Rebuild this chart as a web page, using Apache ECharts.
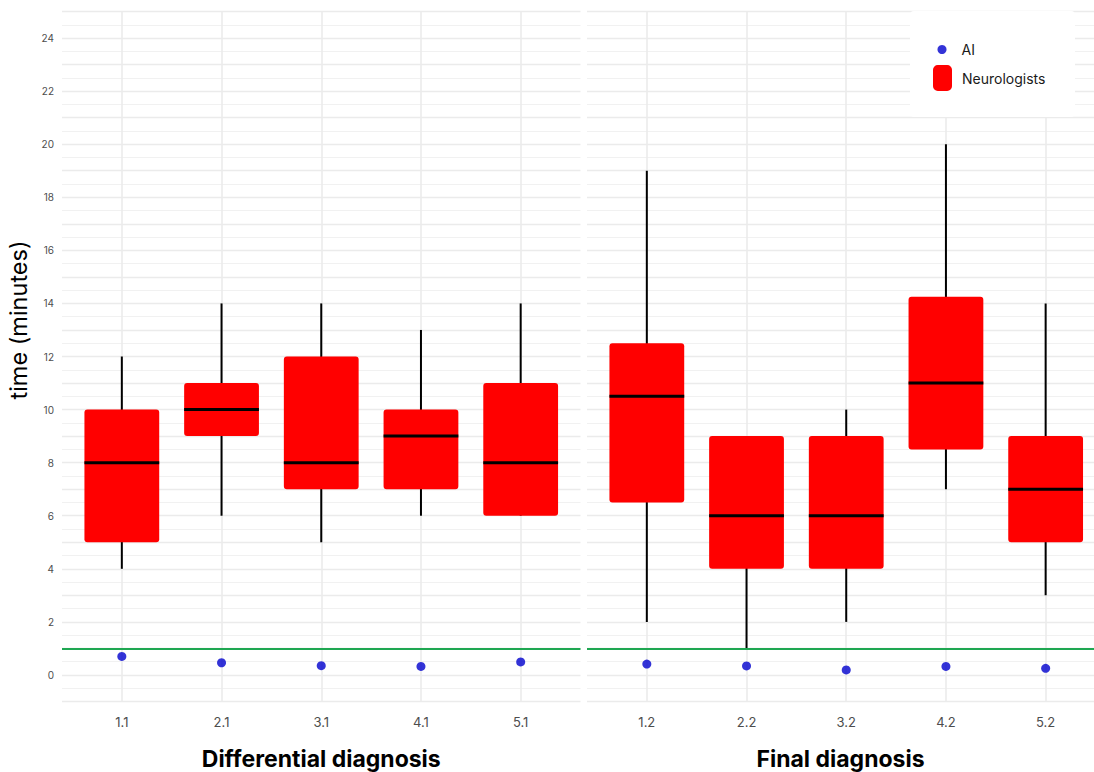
<!DOCTYPE html>
<html><head><meta charset="utf-8">
<script src="https://cdn.jsdelivr.net/npm/echarts@6/dist/echarts.min.js"></script>
<style>html,body{margin:0;padding:0;background:#fff}#c{width:1094px;height:772px}</style>
</head><body><div id="c"></div>
<script>
// Categories
const diffCats = ['1.1', '2.1', '3.1', '4.1', '5.1'];
const finalCats = ['1.2', '2.2', '3.2', '4.2', '5.2'];
// Neurologists: [lower whisker, Q1, median, Q3, upper whisker]
const diffNeuro = [[4, 5, 8, 10, 12], [6, 9, 10, 11, 14], [5, 7, 8, 12, 14], [6, 7, 9, 10, 13], [6, 6, 8, 11, 14]];
const finalNeuro = [[2, 6.5, 10.5, 12.5, 19], [1, 4, 6, 9, 9], [2, 4, 6, 9, 10], [7, 8.5, 11, 14.25, 20], [3, 5, 7, 9, 14]];
// AI times
const diffAI = [0.70, 0.46, 0.35, 0.32, 0.49];
const finalAI = [0.41, 0.34, 0.19, 0.32, 0.25];
// Y tick labels
const yTickLabels = [0, 2, 4, 6, 8, 10, 12, 14, 16, 18, 20, 22, 24];
const threshold = 1;

const FONT = 'Inter';
const chart = echarts.init(document.getElementById('c'), null, {renderer: 'svg'});

function renderBox(params, api) {
  const x = api.value(0);
  const lo = api.coord([x, api.value(1)]);
  const q1 = api.coord([x, api.value(2)]);
  const md = api.coord([x, api.value(3)]);
  const q3 = api.coord([x, api.value(4)]);
  const hi = api.coord([x, api.value(5)]);
  const w = api.size([0.75, 0])[0];
  return {
    type: 'group',
    children: [
      {type: 'line', shape: {x1: lo[0], y1: lo[1], x2: hi[0], y2: hi[1]}, style: {stroke: '#000', lineWidth: 2}},
      {type: 'rect', shape: {x: q3[0] - w / 2, y: q3[1], width: w, height: q1[1] - q3[1], r: 3}, style: {fill: '#ff0000'}},
      {type: 'line', shape: {x1: md[0] - w / 2, y1: md[1], x2: md[0] + w / 2, y2: md[1]}, style: {stroke: '#000', lineWidth: 3}}
    ]
  };
}

function xAxisFor(idx, cats, title, maxV) {
  return {
    type: 'value', gridIndex: idx, min: 0.4, max: maxV,
    axisLine: {show: false}, axisTick: {show: false}, splitLine: {show: false},
    axisLabel: {
      customValues: cats.map((c, i) => i + 1),
      formatter: v => cats[Math.round(v) - 1] || '',
      color: '#4d4d4d', fontSize: 13, fontFamily: FONT, margin: 14
    },
    name: title, nameLocation: 'middle', nameGap: 46,
    nameTextStyle: {color: '#000', fontSize: 23, fontWeight: 'bold', fontFamily: FONT}
  };
}

function yAxisFor(idx, showLabels) {
  return {
    type: 'value', gridIndex: idx, min: -1, max: 25, interval: 1,
    axisLine: {show: false}, axisTick: {show: false},
    axisLabel: {
      show: showLabels, color: '#4d4d4d', fontSize: 10, fontFamily: FONT, margin: 8,
      formatter: v => yTickLabels.indexOf(v) >= 0 ? String(v) : ''
    },
    splitLine: {show: true, lineStyle: {color: '#ebebeb', width: 1.4}},
    minorTick: {show: false, splitNumber: 2},
    minorSplitLine: {show: true, lineStyle: {color: '#ededed', width: 0.8}}
  };
}

function vLines(idx, cats) {
  return {
    type: 'line', xAxisIndex: idx, yAxisIndex: idx, data: [], z: 1, silent: true,
    markLine: {
      silent: true, z: 1, symbol: ['none', 'none'], label: {show: false}, animation: false,
      lineStyle: {color: '#ebebeb', width: 1.6, type: 'solid'},
      data: cats.map((c, i) => ({xAxis: i + 1}))
    }
  };
}

function boxSeries(idx, vals) {
  return {
    type: 'custom', name: 'Neurologists', xAxisIndex: idx, yAxisIndex: idx, z: 3,
    itemStyle: {color: '#ff0000'},
    renderItem: renderBox,
    encode: {x: 0, y: [1, 2, 3, 4, 5]},
    data: vals.map((v, i) => [i + 1].concat(v))
  };
}

function aiSeries(idx, vals) {
  return {
    type: 'scatter', name: 'AI', xAxisIndex: idx, yAxisIndex: idx, z: 4,
    symbol: 'circle', symbolSize: 9, itemStyle: {color: '#0000cd'},
    data: vals.map((v, i) => [i + 1, v]),
    markLine: {
      silent: true, z: 4, symbol: ['none', 'none'], label: {show: false}, animation: false,
      lineStyle: {color: '#1fa752', width: 2, type: 'solid'},
      data: [{yAxis: threshold}]
    }
  };
}

chart.setOption({
  animation: false,
  backgroundColor: '#fff',
  grid: [
    {left: 62, top: 11.5, width: 518.5, bottom: 70.5, outerBoundsMode: 'none', containLabel: false},
    {left: 587, top: 11.5, right: 0, bottom: 70.5, outerBoundsMode: 'none', containLabel: false}
  ],
  xAxis: [xAxisFor(0, diffCats, 'Differential diagnosis', 5.6), xAxisFor(1, finalCats, 'Final diagnosis', 5.485)],
  yAxis: [yAxisFor(0, true), yAxisFor(1, false)],
  legend: [
    {
      data: [{name: 'AI', icon: 'circle'}], left: 937.5, top: 42.5, padding: 0,
      itemWidth: 19, itemHeight: 9, selectedMode: false, z: 10,
      textStyle: {color: '#1a1a1a', fontSize: 14, fontFamily: FONT, padding: [0, 0, 0, 5]}
    },
    {
      data: [{name: 'Neurologists', icon: 'roundRect'}], left: 933, top: 65, padding: 0,
      itemWidth: 19, itemHeight: 26, selectedMode: false, z: 10,
      textStyle: {color: '#1a1a1a', fontSize: 14, fontFamily: FONT, padding: [0, 0, 0, 5]}
    }
  ],
  graphic: [
    {type: 'rect', left: 910, top: 11, z: 6, shape: {width: 165, height: 106, r: 4}, style: {fill: '#fff'}},
    {type: 'text', x: 18, y: 320, rotation: Math.PI / 2, z: 6,
     style: {text: 'time (minutes)', align: 'center', verticalAlign: 'middle', fill: '#000', font: '23.5px ' + FONT}}
  ],
  series: [
    vLines(0, diffCats), vLines(1, finalCats),
    boxSeries(0, diffNeuro), boxSeries(1, finalNeuro),
    aiSeries(0, diffAI), aiSeries(1, finalAI)
  ]
});
</script></body></html>
